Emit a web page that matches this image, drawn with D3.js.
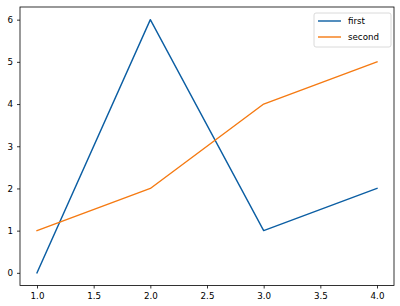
<!DOCTYPE html>
<html>
<head>
<meta charset="utf-8">
<script src="https://cdn.jsdelivr.net/npm/d3@7"></script>
<style>
  body { margin: 0; background: #fff; }
  text { font-family: "DejaVu Sans", sans-serif; fill: #000; }
</style>
</head>
<body>
<div id="chart"></div>
<script>
// data
var xs = [1, 2, 3, 4];
var first = [0, 6, 1, 2];
var second = [1, 2, 4, 5];
var seriesNames = ["first", "second"];
var seriesColors = ["#0b5ea3", "#f57a12"];
var xTicks = [1.0, 1.5, 2.0, 2.5, 3.0, 3.5, 4.0];
var yTicks = [0, 1, 2, 3, 4, 5, 6];

var W = 400, H = 306;
// plot box (window.top is reserved, so use other names)
var boxL = 20, boxT = 7, boxR = 394, boxB = 285.5;

var svg = d3.select('#chart').append('svg').attr('width', W).attr('height', H);

var x = d3.scaleLinear().domain([0.85, 4.15]).range([boxL, boxR]);
var y = d3.scaleLinear().domain([-0.3, 6.3]).range([boxB, boxT]);

// axes
var xAxis = d3.axisBottom(x).tickValues(xTicks).tickSize(3).tickPadding(4)
  .tickFormat(d3.format('.1f'));
var yAxis = d3.axisLeft(y).tickValues(yTicks).tickSize(3).tickPadding(4)
  .tickFormat(d3.format('d'));

var gx = svg.append('g').attr('transform', 'translate(0,' + boxB + ')').call(xAxis);
var gy = svg.append('g').attr('transform', 'translate(' + boxL + ',0)').call(yAxis);
[gx, gy].forEach(function(g) {
  g.select('.domain').remove();
  g.selectAll('.tick line').attr('stroke', '#000').attr('stroke-width', 0.8);
  g.selectAll('.tick text').style('font-size', '8.7px').attr('fill', '#000');
});

// lines
var line = d3.line().x(function(d, i) { return x(xs[i]); }).y(function(d) { return y(d); });
[first, second].forEach(function(s, k) {
  svg.append('path').datum(s).attr('d', line)
    .attr('fill', 'none').attr('stroke', seriesColors[k])
    .attr('stroke-width', 1.4).attr('stroke-linejoin', 'round').attr('stroke-linecap', 'square');
});

// frame
svg.append('rect').attr('x', boxL).attr('y', boxT)
  .attr('width', boxR - boxL).attr('height', boxB - boxT)
  .attr('fill', 'none').attr('stroke', '#000').attr('stroke-width', 0.8);

// legend
var lg = svg.append('g');
lg.append('rect').attr('x', 314).attr('y', 13).attr('width', 77).attr('height', 34)
  .attr('rx', 2).attr('fill', '#fff').attr('fill-opacity', 0.8)
  .attr('stroke', '#d0d0d0').attr('stroke-width', 0.8);
seriesNames.forEach(function(n, k) {
  var yy = 21 + k * 16;
  lg.append('line').attr('x1', 318).attr('x2', 341).attr('y1', yy).attr('y2', yy)
    .attr('stroke', seriesColors[k]).attr('stroke-width', 1.4);
  lg.append('text').attr('x', 348).attr('y', yy).attr('dy', '0.35em')
    .style('font-size', '8.7px').text(n);
});
</script>
</body>
</html>
